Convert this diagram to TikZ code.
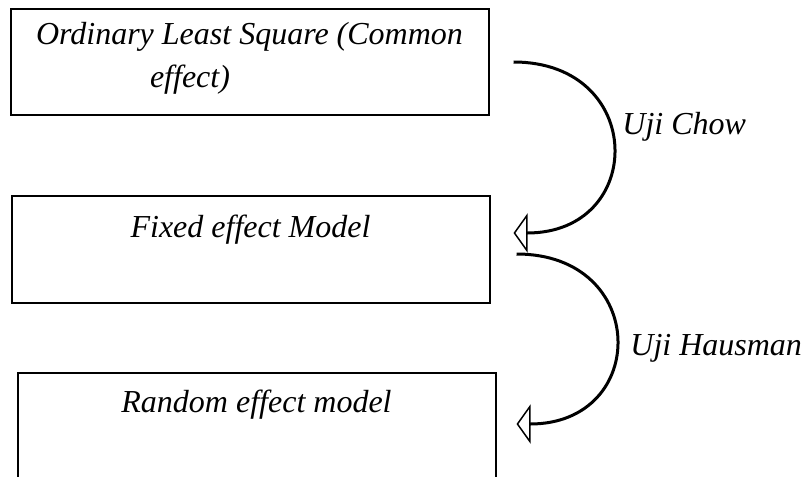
\documentclass[tikz,border=0pt]{standalone}
\usepackage{fontspec}
\setmainfont{Liberation Serif}
\usetikzlibrary{arrows.meta,shapes}

\begin{document}
\begin{tikzpicture}[x=0.5pt,y=-0.5pt]
    \tikzstyle{every node}+=[inner sep=0pt, font=\fontsize{16}{21.5}\selectfont\itshape]
    \tikzstyle{box}=[draw=black, line width=1pt, rectangle, minimum width=239pt, minimum height=53pt]
    \tikzstyle{link}=[black, line width=1.5pt, -{Triangle[open,length=7pt,width=19.5pt,line width=0.75pt]}]
    \useasboundingbox (0,0) rectangle (806,476);
    \draw (249.5,62) node[box, align=left, text height=39.5pt, text depth=13.5pt] (ols) {Ordinary Least Square (Common\\\hspace*{57pt}effect)};
    \draw (250.5,249.5) node[box, text height=20.5pt, text depth=33pt] (fem) {Fixed effect Model};
    \draw (256.5,426.5) node[box, text height=19.5pt, text depth=34pt] (rem) {Random effect model};
    \draw (622,134) node[anchor=base west] (chow) {Uji Chow};
    \draw (630,355) node[anchor=base west] (hausman) {Uji Hausman};
    \coordinate (chowa) at ([xshift=12pt]ols.east);
    \coordinate (chowb) at ([xshift=11.5pt, yshift=8.25pt]fem.east);
    \coordinate (hausa) at ([xshift=13pt, yshift=-2.25pt]fem.east);
    \coordinate (hausb) at ([xshift=10pt, yshift=1.25pt]rem.east);
    \draw [link] (chowa) .. controls +(133,0) and +(133,0) .. (chowb);
    \draw [link] (hausa) .. controls +(133,0) and +(133,0) .. (hausb);
\end{tikzpicture}
\end{document}
